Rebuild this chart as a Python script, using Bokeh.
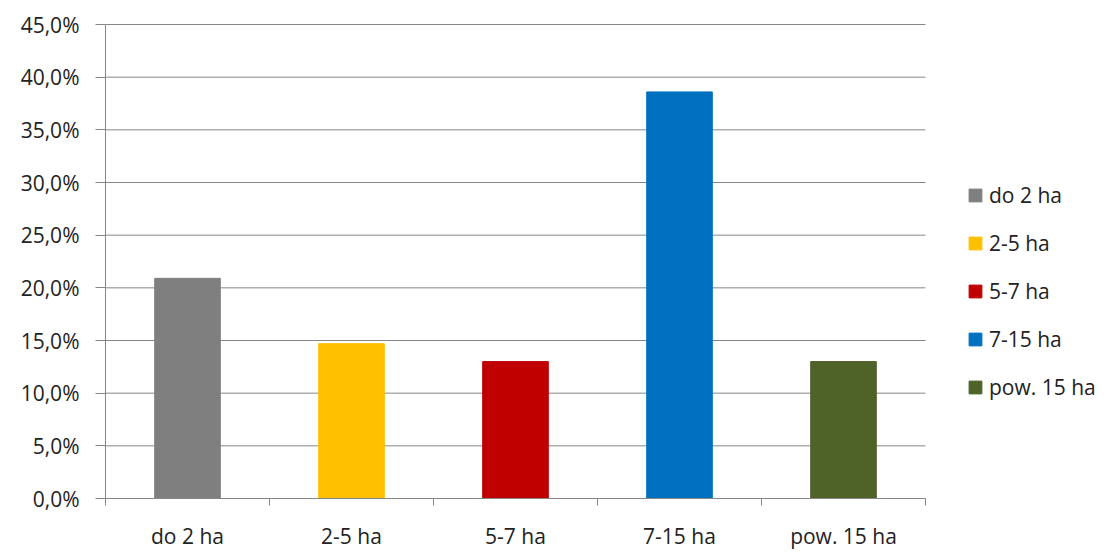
from bokeh.plotting import figure
from bokeh.models import (Range1d, FixedTicker, CustomJSTickFormatter, Legend,
                          LegendItem, ColumnDataSource)
from bokeh.embed import file_html
from bokeh.resources import INLINE

categories = ["do 2 ha", "2-5 ha", "5-7 ha", "7-15 ha", "pow. 15 ha"]
values = [20.9, 14.7, 13.0, 38.6, 13.0]
colors = ["#7F7F7F", "#FFC000", "#C00000", "#0070C0", "#4F6228"]
y_ticks = [0, 5, 10, 15, 20, 25, 30, 35, 40, 45]

FONT = "Open Sans"
FSIZE = "21px"
TXT = "#222222"
GRAY = "#868686"

W, H = 1111, 552
LEFT, TOP, BOTTOM = 105, 22, 54
PLOT_W = 820  # pixel width of the category area
n = len(categories)
x_end = n * (W - LEFT) / PLOT_W
y_end = 45 + 2 * 45 / 474.0

p = figure(width=W, height=H, output_backend="svg", toolbar_location=None,
           x_range=Range1d(0, x_end), y_range=Range1d(0, y_end),
           min_border_left=LEFT, min_border_right=0, min_border_top=TOP,
           min_border_bottom=BOTTOM)
p.outline_line_color = None
p.background_fill_color = "white"
p.border_fill_color = "white"

# horizontal grid lines across the category area only
p.segment(x0=[0] * len(y_ticks), x1=[n] * len(y_ticks), y0=y_ticks, y1=y_ticks,
          line_color=GRAY, line_width=1)

xs = [i + 0.5 for i in range(n)]
renderers = []
for i, (c, v, col) in enumerate(zip(categories, values, colors)):
    src = ColumnDataSource(dict(x=[xs[i]], top=[v]))
    r = p.vbar(x="x", top="top", bottom=0, width=0.4, source=src,
               fill_color=col, line_color=col)
    renderers.append(r)

# x axis
p.xaxis.bounds = (0, n)
p.xaxis.ticker = FixedTicker(ticks=xs, minor_ticks=list(range(n + 1)))
p.xaxis.major_label_overrides = {x: c for x, c in zip(xs, categories)}
p.xaxis.major_tick_line_color = None
p.xaxis.major_tick_out = 0
p.xaxis.major_tick_in = 0
p.xaxis.minor_tick_out = 7
p.xaxis.minor_tick_in = 0
p.xaxis.minor_tick_line_color = GRAY
p.xaxis.axis_line_color = GRAY
p.xaxis.major_label_standoff = 16
p.xaxis.major_label_text_font = FONT
p.xaxis.major_label_text_font_size = FSIZE
p.xaxis.major_label_text_color = TXT
p.xgrid.grid_line_color = None
p.ygrid.grid_line_color = None

# y axis
p.yaxis.bounds = (0, 45)
p.yaxis.ticker = FixedTicker(ticks=y_ticks)
p.yaxis.formatter = CustomJSTickFormatter(code="return tick.toFixed(1).replace('.', ',') + '%';")
p.yaxis.axis_line_color = GRAY
p.yaxis.major_tick_line_color = GRAY
p.yaxis.major_tick_out = 10
p.yaxis.major_tick_in = 0
p.yaxis.minor_tick_line_color = None
p.yaxis.major_label_standoff = 16
p.yaxis.major_label_text_font = FONT
p.yaxis.major_label_text_font_size = FSIZE
p.yaxis.major_label_text_color = TXT

legend = Legend(items=[LegendItem(label=c, renderers=[r]) for c, r in zip(categories, renderers)],
                location=(862, 97))
legend.border_line_color = None
legend.background_fill_alpha = 0
legend.margin = 0
legend.padding = 0
legend.glyph_width = 16
legend.glyph_height = 16
legend.label_standoff = 6
legend.label_height = 24
legend.spacing = 20
legend.label_text_font = FONT
legend.label_text_font_size = FSIZE
legend.label_text_color = TXT
p.add_layout(legend, "center")

open("out.html", "w").write(file_html(p, INLINE))
